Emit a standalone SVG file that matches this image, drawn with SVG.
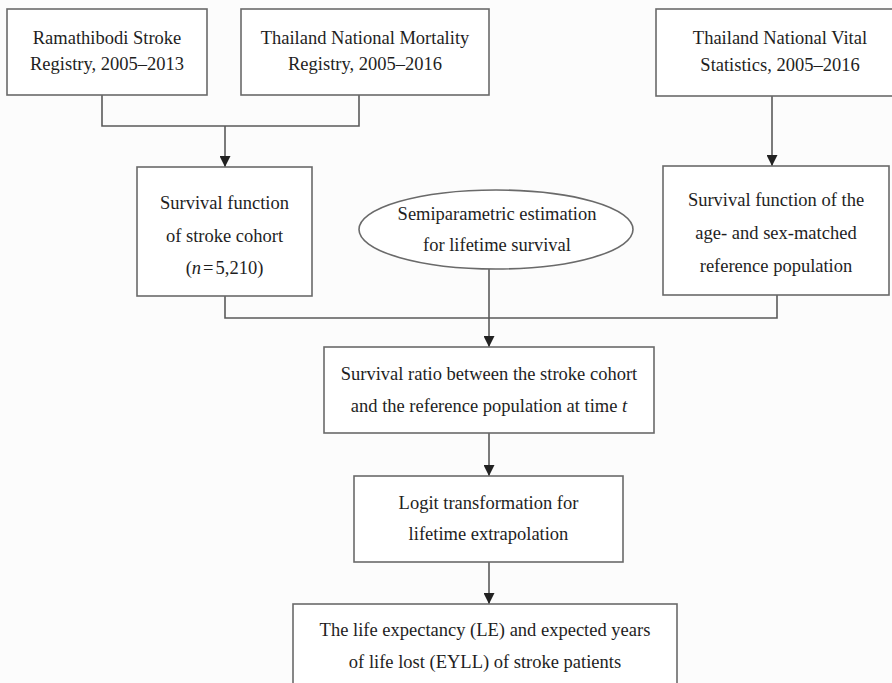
<svg xmlns="http://www.w3.org/2000/svg" width="892" height="683" viewBox="0 0 892 683">
<style>
.box{fill:#ffffff;stroke:#6a6a6a;stroke-width:1.6}
.t{font-family:"Liberation Serif","Times New Roman",serif;font-size:18.5px;fill:#1e1e1e;text-anchor:middle}
.i{font-style:italic}
.c{fill:none;stroke:#5a5a5a;stroke-width:1.6}
</style>
<defs>
<marker id="arr" markerUnits="userSpaceOnUse" markerWidth="11" markerHeight="11" viewBox="0 0 11 11" refX="11" refY="5.5" orient="auto">
<path d="M0,0 L11,5.5 L0,11 Z" fill="#222"/>
</marker>
</defs>
<rect width="892" height="683" fill="#fcfcfc"/>
<g id="connectors">
<path class="c" d="M102,95 V126 H359 V95"/>
<path class="c" d="M225,126 V167" marker-end="url(#arr)"/>
<path class="c" d="M772,96 V166" marker-end="url(#arr)"/>
<path class="c" d="M225,296 V318 H777 V295"/>
<path class="c" d="M489,269 V347" marker-end="url(#arr)"/>
<path class="c" d="M489,433 V476" marker-end="url(#arr)"/>
<path class="c" d="M489,562 V604" marker-end="url(#arr)"/>
</g>
<g id="n1">
<rect class="box" x="7" y="9" width="200" height="86"/>
<text class="t" x="107" y="44">Ramathibodi Stroke</text>
<text class="t" x="107" y="70">Registry, 2005–2013</text>
</g>
<g id="n2">
<rect class="box" x="241" y="9" width="248" height="86"/>
<text class="t" x="365" y="44">Thailand National Mortality</text>
<text class="t" x="365" y="70">Registry, 2005–2016</text>
</g>
<g id="n3">
<rect class="box" x="656" y="9" width="250" height="87"/>
<text class="t" x="780" y="44">Thailand National Vital</text>
<text class="t" x="780" y="71">Statistics, 2005–2016</text>
</g>
<g id="n4">
<rect class="box" x="137" y="167" width="175" height="129"/>
<text class="t" x="224.5" y="209">Survival function</text>
<text class="t" x="224.5" y="242">of stroke cohort</text>
<text class="t" x="224.5" y="274">(<tspan class="i">n</tspan><tspan dx="2">=</tspan><tspan dx="2">5,210)</tspan></text>
</g>
<g id="n5">
<ellipse class="box" cx="496" cy="229.5" rx="137" ry="39.5"/>
<text class="t" x="497" y="220">Semiparametric estimation</text>
<text class="t" x="497" y="251">for lifetime survival</text>
</g>
<g id="n6">
<rect class="box" x="663" y="166" width="226" height="129"/>
<text class="t" x="776" y="206">Survival function of the</text>
<text class="t" x="776" y="239">age- and sex-matched</text>
<text class="t" x="776" y="272">reference population</text>
</g>
<g id="n7">
<rect class="box" x="324" y="347" width="330" height="86"/>
<text class="t" x="489" y="380">Survival ratio between the stroke cohort</text>
<text class="t" x="489" y="412">and the reference population at time <tspan class="i">t</tspan></text>
</g>
<g id="n8">
<rect class="box" x="354" y="476" width="269" height="86"/>
<text class="t" x="488.5" y="509">Logit transformation for</text>
<text class="t" x="488.5" y="540">lifetime extrapolation</text>
</g>
<g id="n9">
<rect class="box" x="293" y="604" width="384" height="100"/>
<text class="t" x="485" y="636">The life expectancy (LE) and expected years</text>
<text class="t" x="485" y="668">of life lost (EYLL) of stroke patients</text>
</g>
</svg>
